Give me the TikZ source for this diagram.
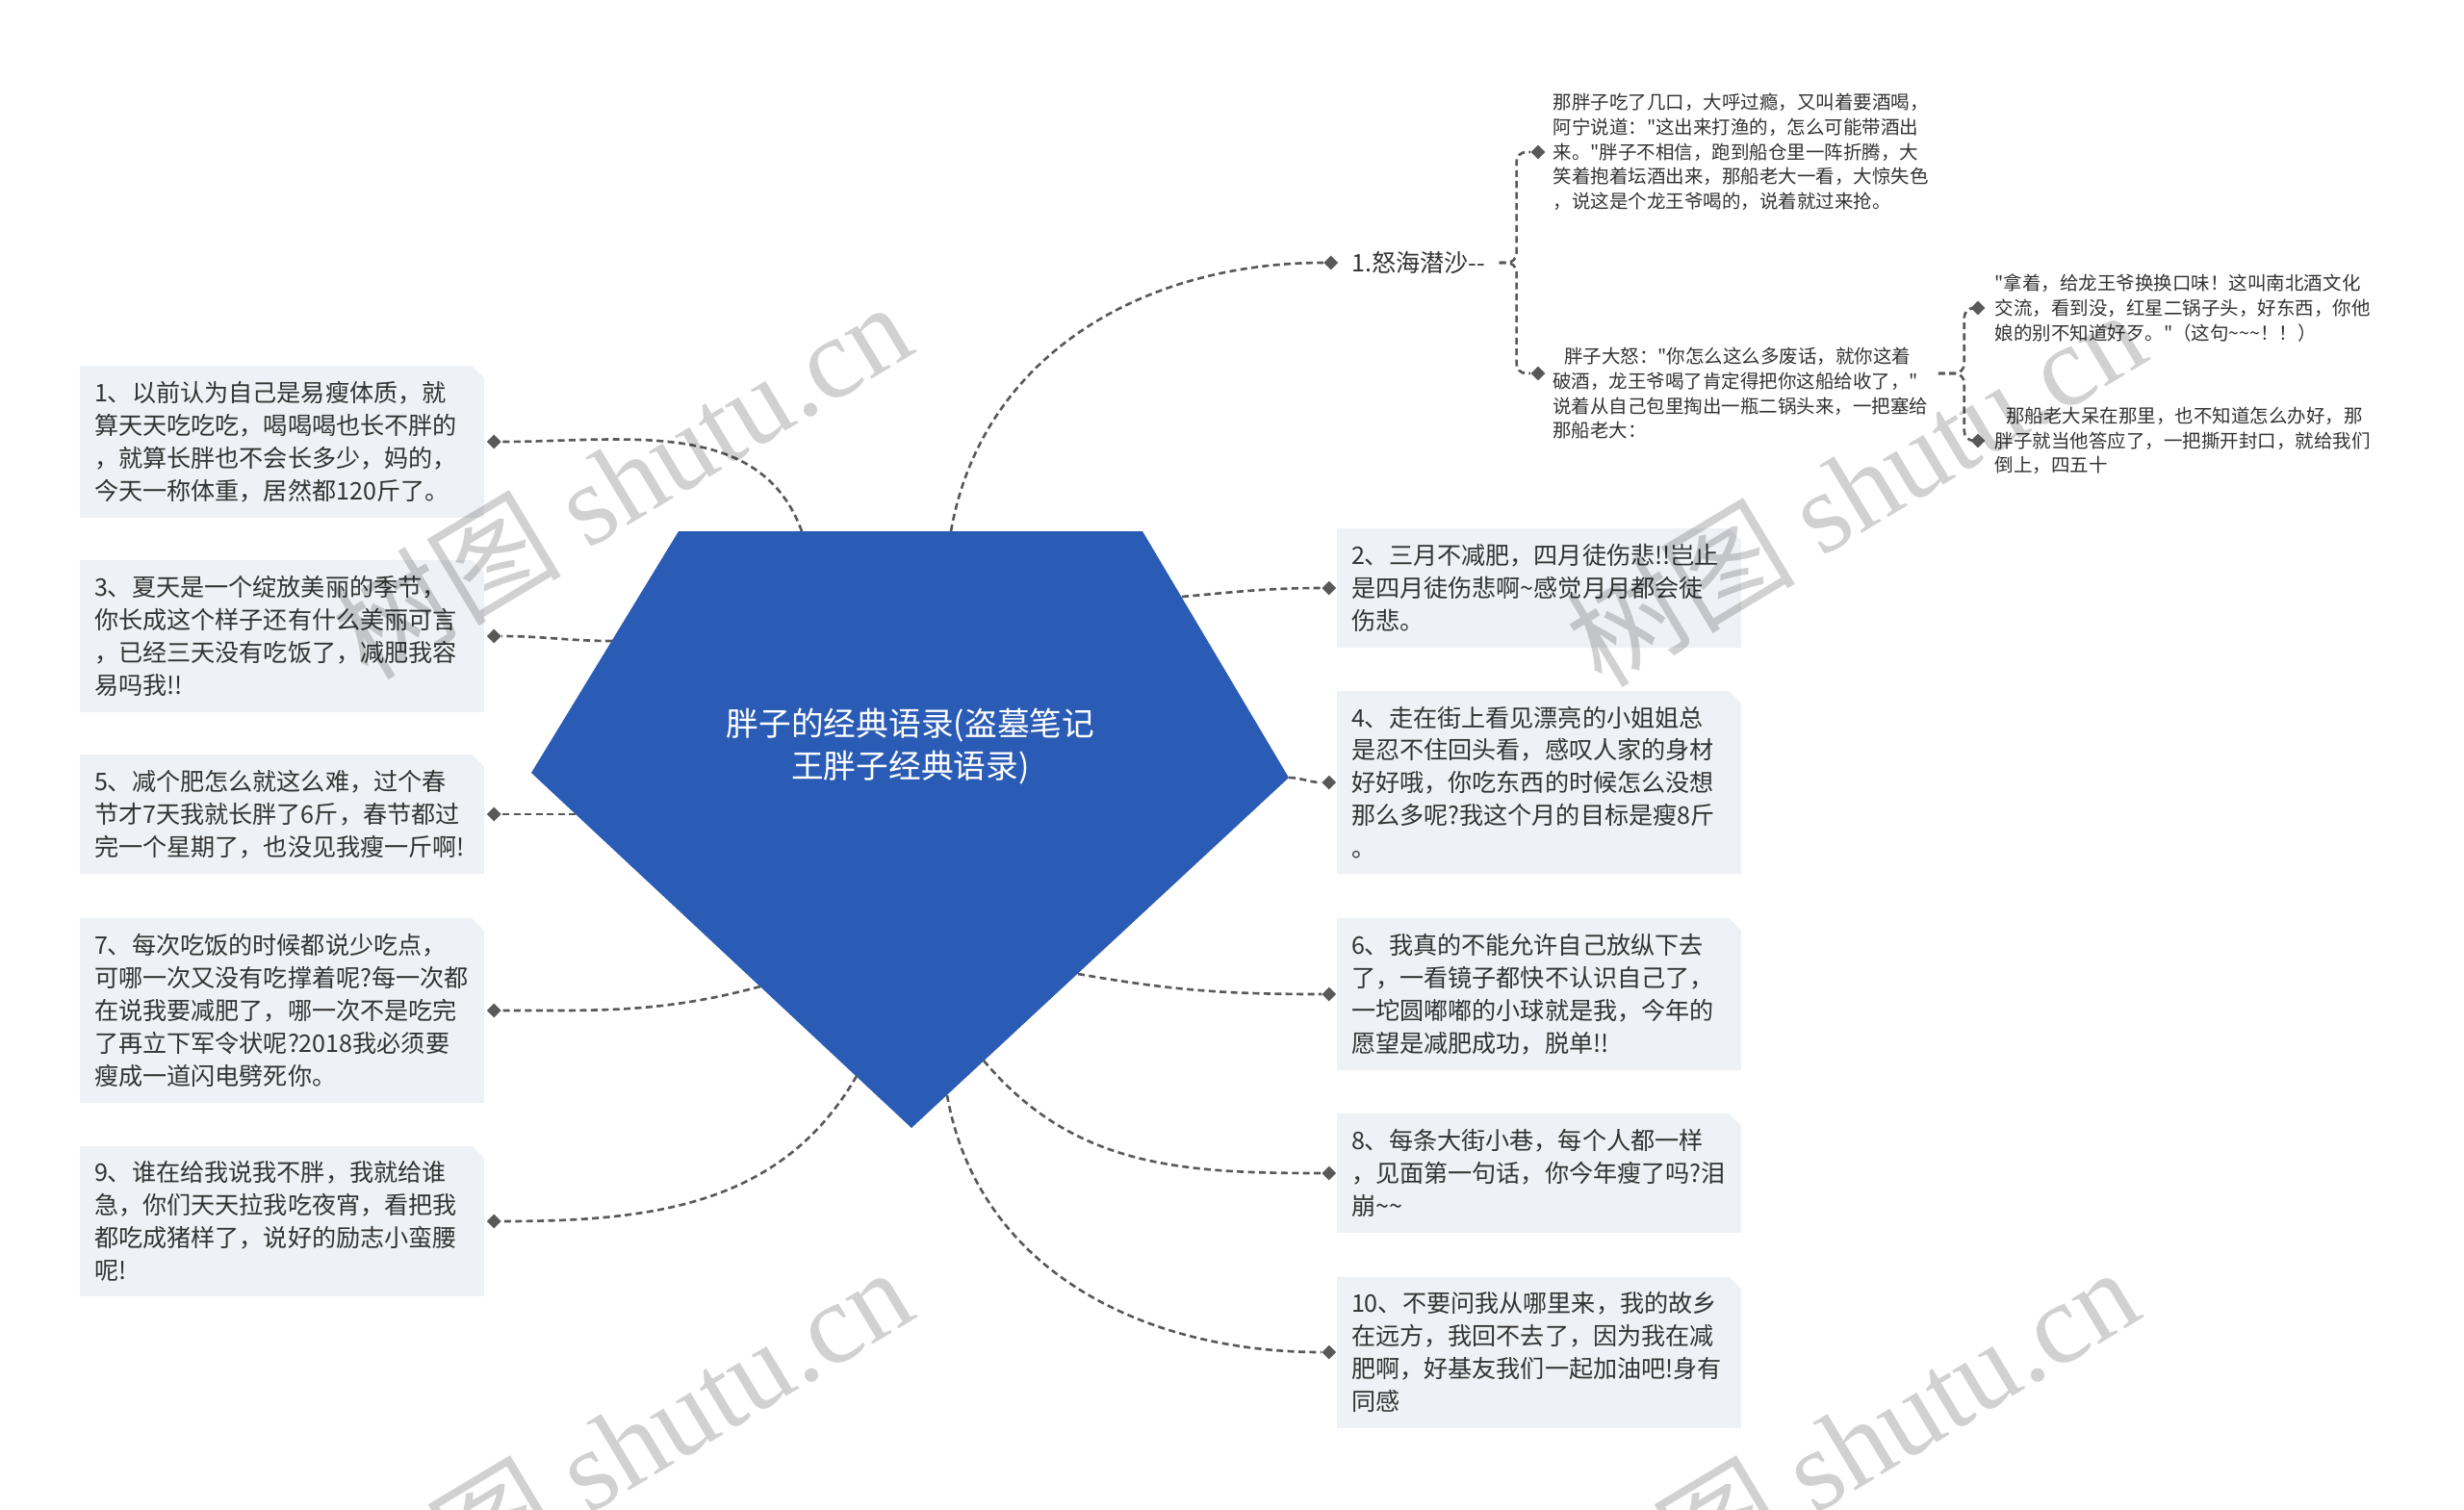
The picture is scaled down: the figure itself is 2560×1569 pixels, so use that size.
\documentclass[tikz,border=0pt]{standalone}
\usepackage{fontspec}
\setmainfont{Noto Sans CJK SC}[Ligatures=TeXOff]
\newfontfamily\serifmarca{Liberation Serif}
\usetikzlibrary{positioning,shapes.geometric}

\definecolor{azul}{rgb}{0.17,0.36,0.71}
\definecolor{caixa}{rgb}{0.933,0.945,0.961}
\definecolor{linha}{rgb}{0.35,0.35,0.35}
\definecolor{texto}{rgb}{0.2,0.2,0.2}

\begin{document}
\begin{tikzpicture}[
        x=0.02cm, y=-0.02cm,
        nodecaixa/.style={rectangle, fill=caixa, text=texto, align=left, text width=7.8cm, inner xsep=0.3cm, inner ysep=0.32cm, font=\fontsize{14.3pt}{19.3pt}\selectfont},
        nodetexto/.style={align=left, text=texto, inner sep=0pt, anchor=west, font=\fontsize{11.1pt}{14.6pt}\selectfont},
        nodecentro/.style={align=center, text=white, inner sep=0pt, font=\fontsize{19.2pt}{25pt}\selectfont},
        marcador/.style={diamond, fill=linha, minimum size=0.3cm, inner sep=0pt},
        conector/.style={draw=linha, line width=1.5pt, dash pattern=on 4pt off 2.5pt},
        marcadagua/.style={text=black, text opacity=0.18, rotate=31, inner sep=0pt, font=\fontsize{68pt}{68pt}\selectfont}
        ]
        \fill[white] (0,0) rectangle (2560,1569);
        \useasboundingbox (0,0) rectangle (2560,1569);

        % forma central
        \coordinate (pa) at (705,552);
        \coordinate (pb) at (1187,552);
        \coordinate (pc) at (1339,808);
        \coordinate (pd) at (947,1172);
        \coordinate (pe) at (552,803);
        \fill[azul] (pa) -- (pb) -- (pc) -- (pd) -- (pe) -- cycle;
        \node [nodecentro] (centro) at (946,776) {胖子的经典语录(盗墓笔记\\王胖子经典语录)};

        % caixas da esquerda
        \node [nodecaixa] (b1) at (293,459) {1、以前认为自己是易瘦体质，就\\算天天吃吃吃，喝喝喝也长不胖的\\，就算长胖也不会长多少，妈的，\\今天一称体重，居然都120斤了。};
        \node [nodecaixa] (b3) at (293,661) {3、夏天是一个绽放美丽的季节，\\你长成这个样子还有什么美丽可言\\，已经三天没有吃饭了，减肥我容\\易吗我!!};
        \node [nodecaixa] (b5) at (293,846) {5、减个肥怎么就这么难，过个春\\节才7天我就长胖了6斤，春节都过\\完一个星期了，也没见我瘦一斤啊!};
        \node [nodecaixa] (b7) at (293,1050) {7、每次吃饭的时候都说少吃点，\\可哪一次又没有吃撑着呢?每一次都\\在说我要减肥了，哪一次不是吃完\\了再立下军令状呢?2018我必须要\\瘦成一道闪电劈死你。};
        \node [nodecaixa] (b9) at (293,1269) {9、谁在给我说我不胖，我就给谁\\急，你们天天拉我吃夜宵，看把我\\都吃成猪样了，说好的励志小蛮腰\\呢!};

        % caixas da direita
        \node [nodecaixa] (b2) at (1599,611) {2、三月不减肥，四月徒伤悲!!岂止\\是四月徒伤悲啊\textasciitilde 感觉月月都会徒\\伤悲。};
        \node [nodecaixa] (b4) at (1599,813) {4、走在街上看见漂亮的小姐姐总\\是忍不住回头看，感叹人家的身材\\好好哦，你吃东西的时候怎么没想\\那么多呢?我这个月的目标是瘦8斤\\。};
        \node [nodecaixa] (b6) at (1599,1033) {6、我真的不能允许自己放纵下去\\了，一看镜子都快不认识自己了，\\一坨圆嘟嘟的小球就是我，今年的\\愿望是减肥成功，脱单!!};
        \node [nodecaixa] (b8) at (1599,1219) {8、每条大街小巷，每个人都一样\\，见面第一句话，你今年瘦了吗?泪\\崩\textasciitilde\textasciitilde};
        \node [nodecaixa] (b10) at (1599,1405) {10、不要问我从哪里来，我的故乡\\在远方，我回不去了，因为我在减\\肥啊，好基友我们一起加油吧!身有\\同感};

        \foreach \b in {b1,b3,b5,b7,b9,b2,b4,b6,b8,b10}
          \fill[white] (\b.north east) -- ++(-13,0) -- ++(13,13) -- cycle;

        \foreach \b in {1,3,5,7,9}
          \node [marcador, right=0.04cm of b\b] (m\b) {};
        \foreach \b in {2,4,6,8,10}
          \node [marcador, left=0cm of b\b] (m\b) {};

        % ramo 1.怒海潜沙
        \node [nodetexto, font=\fontsize{14.3pt}{19.3pt}\selectfont] (nh) at (1404,273) {1.怒海潜沙--};
        \node [marcador, left=0.27cm of nh] (mnh) {};
        \node [marcador] (ma) at (1598,158) {};
        \node [nodetexto, right=0.15cm of ma] (ta) {那胖子吃了几口，大呼过瘾，又叫着要酒喝，\\阿宁说道："这出来打渔的，怎么可能带酒出\\来。"胖子不相信，跑到船仓里一阵折腾，大\\笑着抱着坛酒出来，那船老大一看，大惊失色\\，说这是个龙王爷喝的，说着就过来抢。};
        \node [marcador] (mb) at (1598,388) {};
        \node [nodetexto] (tb) at (1613,409) {\hspace*{0.6em}胖子大怒："你怎么这么多废话，就你这着\\破酒，龙王爷喝了肯定得把你这船给收了，"\\说着从自己包里掏出一瓶二锅头来，一把塞给\\那船老大：};
        \node [marcador] (mc) at (2055,320) {};
        \node [nodetexto, right=0.19cm of mc] (tc) {"拿着，给龙王爷换换口味！这叫南北酒文化\\交流，看到没，红星二锅子头，好东西，你他\\娘的别不知道好歹。"（这句\textasciitilde\textasciitilde\textasciitilde！！）};
        \node [marcador] (md) at (2055,458) {};
        \node [nodetexto, right=0.19cm of md] (td) {\hspace*{0.6em}那船老大呆在那里，也不知道怎么办好，那\\胖子就当他答应了，一把撕开封口，就给我们\\倒上，四五十};

        \draw[conector, rounded corners=0.2cm] (nh.east) ++(14,0) -- ++(18,0) |- (ma.west);
        \draw[conector, rounded corners=0.2cm] (nh.east) ++(14,0) -- ++(18,0) |- (mb.west);
        \draw[conector, rounded corners=0.2cm] (tb.east |- mb) ++(10,0) -- ++(27,0) |- (mc.west);
        \draw[conector, rounded corners=0.2cm] (tb.east |- mb) ++(10,0) -- ++(27,0) |- (md.west);

        % saidas da forma central
        \coordinate (s1) at (833,552);
        \coordinate (s3) at (636,666);
        \coordinate (s5) at (598,846);
        \coordinate (s7) at (790,1025);
        \coordinate (s9) at (890,1118);
        \coordinate (snh) at (988,552);
        \coordinate (s2) at (1228,620);
        \coordinate (s4) at (1339,808);
        \coordinate (s6) at (1120,1012);
        \coordinate (s8) at (1022,1102);
        \coordinate (s10) at (984,1138);

        \draw[conector] (s1) to[out=110, in=0] (m1.east);
        \draw[conector] (s3) to[out=180, in=0] (m3.east);
        \draw[conector] (s5) to[out=180, in=0] (m5.east);
        \draw[conector] (s7) to[out=195, in=0] (m7.east);
        \draw[conector] (s9) to[out=240, in=0] (m9.east);
        \draw[conector] (snh) to[out=80, in=180] (mnh.west);
        \draw[conector] (s2) to[out=5, in=180] (m2.west);
        \draw[conector] (s4) to[out=0, in=180] (m4.west);
        \draw[conector] (s6) to[out=-10, in=180] (m6.west);
        \draw[conector] (s8) to[out=-50, in=180] (m8.west);
        \draw[conector] (s10) to[out=-80, in=180] (m10.west);

        % marca d'agua
        \node [marcadagua] (wm1) at (645,498) {树图 {\serifmarca shutu.cn}};
        \node [marcadagua] (wm2) at (1927,506) {树图 {\serifmarca shutu.cn}};
        \node [marcadagua] (wm3) at (646,1501) {树图 {\serifmarca shutu.cn}};
        \node [marcadagua] (wm4) at (1920,1501) {树图 {\serifmarca shutu.cn}};
\end{tikzpicture}
\end{document}
